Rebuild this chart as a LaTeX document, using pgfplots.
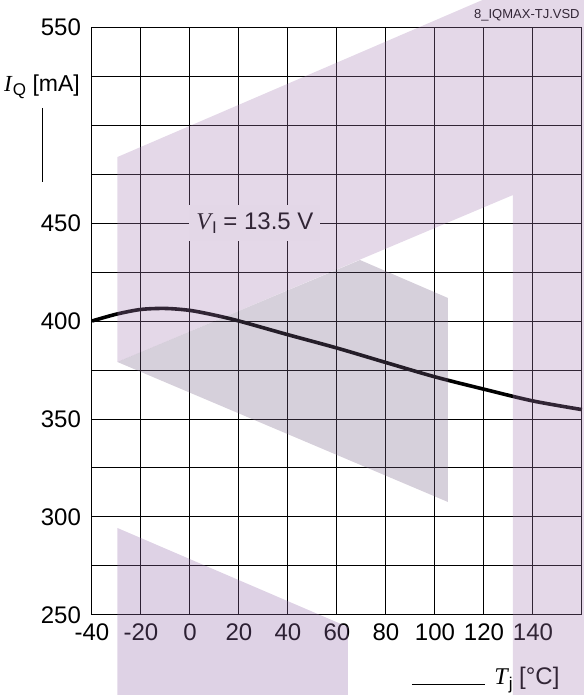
\documentclass[border=0pt]{standalone}
\usepackage{fontspec}
\setmainfont{Liberation Sans}
\newfontfamily\serif{Liberation Serif}
\usepackage{pgfplots}
\pgfplotsset{compat=1.18}
\definecolor{wmA}{RGB}{165,125,178}
\definecolor{wmB}{RGB}{120,98,135}
\definecolor{wmC}{RGB}{147,107,170}
\newcommand{\sym}[2]{{\serif\itshape #1}\kern0.5pt\raisebox{-0.35ex}{\fontsize{8.5}{9}\selectfont #2}}

\pgfplotsset{base/.style={
    scale only axis,
    width=245pt, height=294pt,
    xmin=-40, xmax=160, ymin=250, ymax=550,
    clip=false,
}}

\begin{document}
\begin{tikzpicture}
\begin{axis}[
    base,
    xtick={-40,-20,...,140},
    xticklabels={-40,-20,0,20,40,60,80,100,120,140},
    ytick={250,300,...,550},
    yticklabels={250,300,350,400,450,,550},
    minor ytick={275,325,...,525},
    grid=both,
    grid style={black, line width=0.5pt},
    minor grid style={black, line width=0.5pt},
    axis line style={black, line width=0.5pt},
    major tick length=0pt, minor tick length=0pt,
    tick label style={font=\fontsize{12}{14}\selectfont},
    yticklabel style={xshift=-2pt},
    xticklabel style={yshift=-1pt},
]
\addplot[black, line width=1.8pt, smooth] coordinates {
    (-40,400.0) (-30,403.5) (-20,405.9) (-10,406.4) (0,405.4) (10,403.0)
    (20,400.0) (40,393.0) (60,386.2) (80,378.8) (100,371.5) (120,365.2)
    (140,359.2) (160,354.8)
};
\node[fill=white, inner xsep=3.5pt, minimum height=18pt, font=\fontsize{12}{14}\selectfont] at (axis cs:26.5,450) {\sym{V}{I} = 13.5 V};
\node[font=\fontsize{11.5}{14}\selectfont] at (axis cs:-60.4,519.4) {\sym{I}{Q} [mA]};
\draw[black, line width=0.5pt] (axis cs:-60,508.7) -- (axis cs:-60,470.9);
\draw[black, line width=0.5pt] (axis cs:90.6,214.3) -- (axis cs:120.4,214.3);
\node[anchor=west, inner sep=0pt, font=\fontsize{12}{14}\selectfont] at (axis cs:124.1,216.8) {\sym{T}{j} [°C]};
\node[anchor=east, inner sep=0pt, font=\fontsize{6.5}{7}\selectfont] at (axis cs:159.2,556.1) {8\_IQMAX-TJ.VSD};
\coordinate (bl) at (axis cs:-77.55,209.18);
\coordinate (tr) at (axis cs:160.82,563.78);
\end{axis}
\begin{axis}[base, hide axis]
\addplot[draw=none, fill=wmA, fill opacity=0.3] coordinates {
    (-29.6,483.67) (119.59,563.9) (161,563.9) (161,209) (131.84,209)
    (131.84,464.29) (-29.6,379.08)
};
\addplot[draw=none, fill=wmB, fill opacity=0.3] coordinates {
    (-29.6,379.08) (69.39,431.12) (105.31,411.73) (105.31,307.65)
};
\addplot[draw=none, fill=wmC, fill opacity=0.3] coordinates {
    (-29.6,294.39) (64.49,243.88) (64.49,209) (-29.6,209)
};
\end{axis}
\pgfresetboundingbox
\path[use as bounding box] (bl) rectangle (tr);
\end{tikzpicture}
\end{document}
